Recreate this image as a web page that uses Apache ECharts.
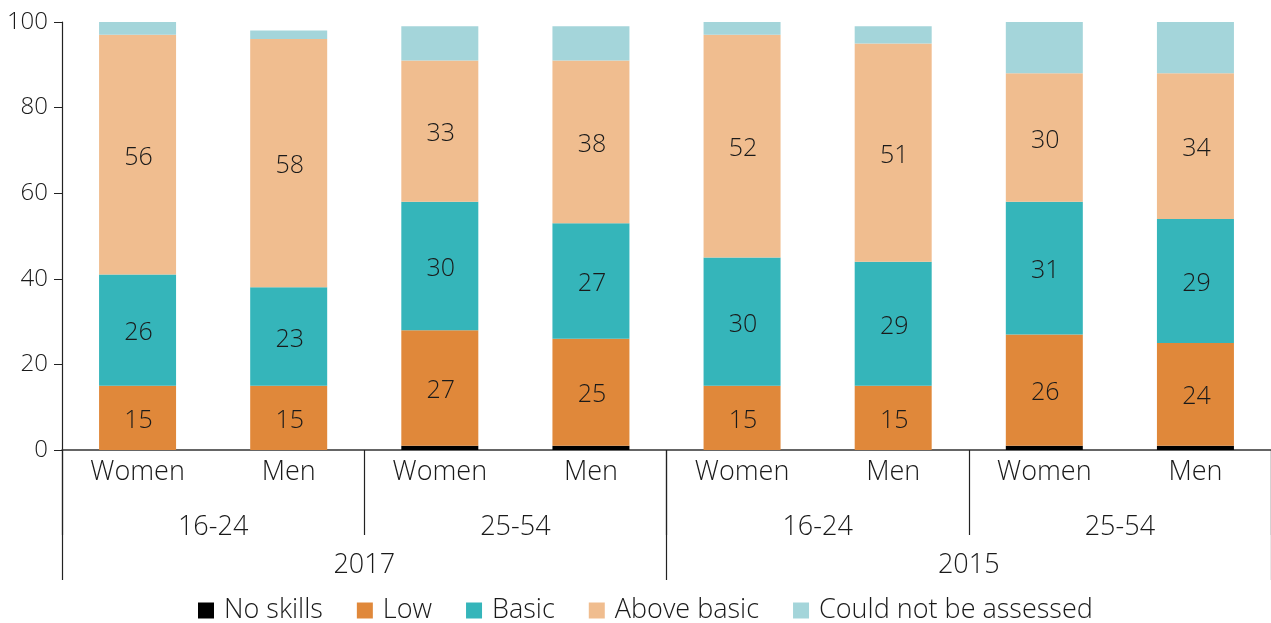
<!DOCTYPE html>
<html>
<head>
<meta charset="utf-8">
<script src="https://cdn.jsdelivr.net/npm/echarts@6/dist/echarts.min.js"></script>
<style>
html,body{margin:0;padding:0;background:#fff;}
#c{width:1271px;height:623px;}
</style>
</head>
<body>
<div id="c"></div>
<script>
const sexLabels = ['Women','Men','Women','Men','Women','Men','Women','Men'];
const ageLabels = ['16-24','25-54','16-24','25-54'];
const yearLabels = ['2017','2015'];
const yTicks = [0,20,40,60,80,100];

const noSkills   = [0, 0, 1, 1, 0, 0, 1, 1];
const low        = [15, 15, 27, 25, 15, 15, 26, 24];
const basic      = [26, 23, 30, 27, 30, 29, 31, 29];
const aboveBasic = [56, 58, 33, 38, 52, 51, 30, 34];
const notAssessed= [3, 2, 8, 8, 3, 4, 12, 12];

const FONT = '"Open Sans", sans-serif';
const FW = 300;
const TXT = '#1a1a1a';

function mk(name, data, color, showLabel){
  return {
    name, type:'bar', stack:'s', data, barWidth:77, xAxisIndex:0,
    itemStyle:{color},
    label:{show:showLabel, position:'inside', offset:[1,3], color:TXT, fontSize:25, fontWeight:FW, fontFamily:FONT},
    emphasis:{disabled:true}
  };
}

const chart = echarts.init(document.getElementById('c'), null, {renderer:'canvas'});
chart.setOption({
  animation:false,
  textStyle:{fontFamily:FONT},
  grid:{left:62, right:-4, top:22, bottom:173, containLabel:false},
  legend:{
    top:592, left:193, itemWidth:16, itemHeight:16, itemGap:34,
    icon:'rect',
    textStyle:{fontSize:27, color:TXT, fontWeight:FW, fontFamily:FONT, padding:[0,0,0,5]},
    data:['No skills','Low','Basic','Above basic','Could not be assessed']
  },
  xAxis:[
    {type:'category', data:sexLabels, position:'bottom',
     axisLine:{show:true, lineStyle:{color:'#333', width:1.5}},
     axisTick:{show:false},
     axisLabel:{fontSize:27, color:TXT, fontWeight:FW, margin:9, fontFamily:FONT}},
    {type:'category', data:ageLabels, position:'bottom', gridIndex:0,
     axisLine:{show:false},
     axisTick:{show:true, length:85, interval:0, lineStyle:{color:'#222', width:1.2}},
     axisLabel:{fontSize:27, color:TXT, fontWeight:FW, margin:64, fontFamily:FONT}},
    {type:'category', data:yearLabels, position:'bottom', gridIndex:0,
     axisLine:{show:false},
     axisTick:{show:true, length:130, interval:0, lineStyle:{color:'#222', width:1.2}},
     axisLabel:{fontSize:27, color:TXT, fontWeight:FW, margin:102, fontFamily:FONT}}
  ],
  yAxis:{
    type:'value', min:yTicks[0], max:yTicks[yTicks.length-1], interval:20,
    axisLine:{show:true, lineStyle:{color:'#222', width:1.2}},
    axisTick:{show:true, length:8, lineStyle:{color:'#222'}},
    splitLine:{show:false},
    axisLabel:{fontSize:24, color:TXT, fontWeight:FW, margin:14, fontFamily:FONT}
  },
  series:[
    mk('No skills', noSkills, '#000000', false),
    mk('Low', low, '#E0883A', true),
    mk('Basic', basic, '#35B5BA', true),
    mk('Above basic', aboveBasic, '#F0BD8F', true),
    mk('Could not be assessed', notAssessed, '#A4D5DA', false)
  ]
});
</script>
</body>
</html>
